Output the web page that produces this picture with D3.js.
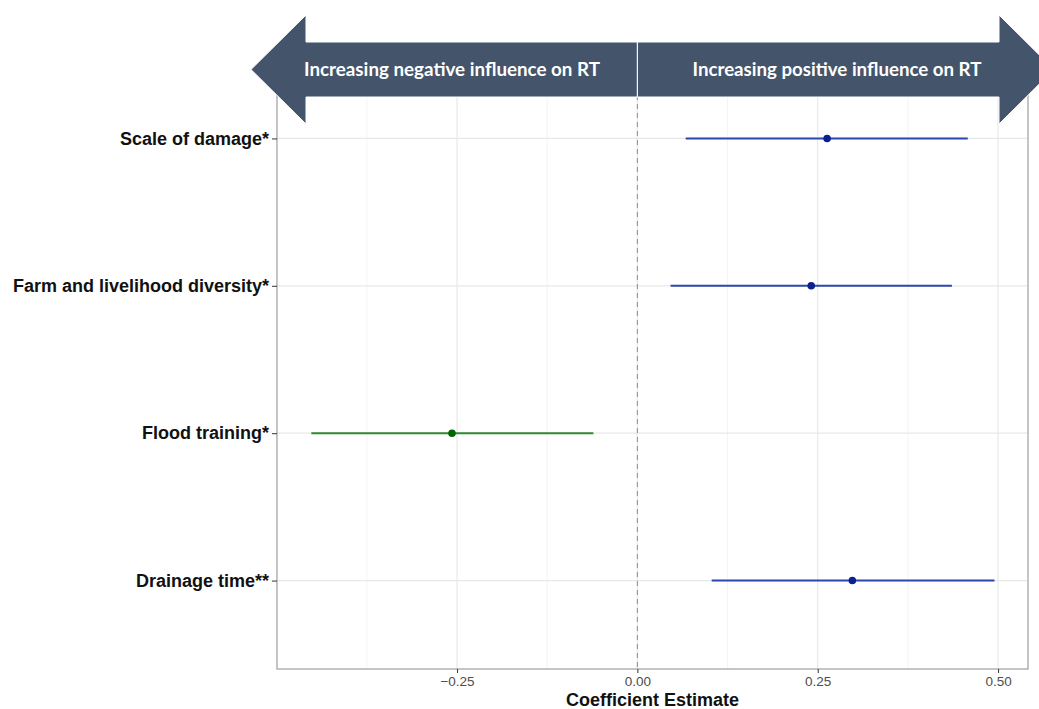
<!DOCTYPE html>
<html>
<head>
<meta charset="utf-8">
<script src="https://cdn.jsdelivr.net/npm/d3@7"></script>
<style>
  body { margin: 0; background: #fff; }
  svg { display: block; }
</style>
</head>
<body>
<svg id="chart" width="1039" height="709"></svg>
<script>
// categories top to bottom
const factors = ['Scale of damage*', 'Farm and livelihood diversity*', 'Flood training*', 'Drainage time**'];
const estimates = [0.263, 0.241, -0.257, 0.298];
const lower = [0.067, 0.046, -0.452, 0.103];
const upper = [0.458, 0.436, -0.061, 0.495];
const xTicks = [-0.25, 0, 0.25, 0.5];
const xMinor = [-0.375, -0.125, 0.125, 0.375];
const arrowLabels = ['Increasing negative influence on RT', 'Increasing positive influence on RT'];

const data = factors.map((f, i) => ({ factor: f, est: estimates[i], lo: lower[i], hi: upper[i] }));

const svg = d3.select('#chart');
const width = 1039, height = 709;
const margin = { top: 50, right: 11, bottom: 40, left: 277 };

const x = d3.scaleLinear()
  .domain([-0.4996, 0.5415])
  .range([margin.left, width - margin.right]);

const y = d3.scalePoint()
  .domain(factors)
  .range([margin.top, height - margin.bottom])
  .padding(0.6);

const colorLine = d => d.est < 0 ? '#2f8a2f' : '#2c47ab';
const colorPoint = d => d.est < 0 ? '#006400' : '#0b2190';

// grid
const grid = svg.append('g');
grid.selectAll('.minor')
  .data(xMinor)
  .join('line')
  .attr('x1', d => x(d)).attr('x2', d => x(d))
  .attr('y1', margin.top).attr('y2', height - margin.bottom)
  .attr('stroke', '#f0f0f0').attr('stroke-width', 0.8);
grid.selectAll('.major')
  .data(xTicks)
  .join('line')
  .attr('x1', d => x(d)).attr('x2', d => x(d))
  .attr('y1', margin.top).attr('y2', height - margin.bottom)
  .attr('stroke', '#e8e8e8').attr('stroke-width', 1.2);
grid.selectAll('.hgrid')
  .data(factors)
  .join('line')
  .attr('x1', margin.left).attr('x2', width - margin.right)
  .attr('y1', d => y(d)).attr('y2', d => y(d))
  .attr('stroke', '#e8e8e8').attr('stroke-width', 1.2);

// zero reference
svg.append('line')
  .attr('x1', x(0)).attr('x2', x(0))
  .attr('y1', margin.top).attr('y2', height - margin.bottom)
  .attr('stroke', '#8c8c8c')
  .attr('stroke-width', 1)
  .attr('stroke-dasharray', '5,4');

// error bars
svg.append('g').selectAll('line')
  .data(data)
  .join('line')
  .attr('x1', d => x(d.lo)).attr('x2', d => x(d.hi))
  .attr('y1', d => y(d.factor)).attr('y2', d => y(d.factor))
  .attr('stroke', colorLine)
  .attr('stroke-width', 2);

svg.append('g').selectAll('circle')
  .data(data)
  .join('circle')
  .attr('cx', d => x(d.est))
  .attr('cy', d => y(d.factor))
  .attr('r', 3.8)
  .attr('fill', colorPoint);

// panel border
svg.append('rect')
  .attr('x', margin.left).attr('y', margin.top)
  .attr('width', width - margin.right - margin.left)
  .attr('height', height - margin.bottom - margin.top)
  .attr('fill', 'none')
  .attr('stroke', '#a6a6a6')
  .attr('stroke-width', 1.3);

// axes
const xAxis = svg.append('g')
  .attr('transform', `translate(0,${height - margin.bottom})`)
  .call(d3.axisBottom(x).tickValues(xTicks).tickFormat(d3.format('.2f')).tickSize(4).tickPadding(3))
  .call(g => g.select('.domain').remove());
xAxis.selectAll('.tick line').attr('stroke', '#333').attr('stroke-width', 1);
xAxis.selectAll('text')
  .attr('fill', '#4d4d4d')
  .style('font-family', '"Liberation Sans", Arial, sans-serif')
  .style('font-size', '13.5px');

const yAxis = svg.append('g')
  .attr('transform', `translate(${margin.left},0)`)
  .call(d3.axisLeft(y).tickSize(5).tickPadding(3))
  .call(g => g.select('.domain').remove());
yAxis.selectAll('.tick line').attr('stroke', '#333').attr('stroke-width', 1);
yAxis.selectAll('text')
  .attr('fill', '#111')
  .style('font-family', '"Liberation Sans", Arial, sans-serif')
  .style('font-weight', 'bold')
  .style('font-size', '18px');

svg.append('text')
  .attr('x', (margin.left + width - margin.right) / 2)
  .attr('y', 706)
  .attr('text-anchor', 'middle')
  .attr('fill', '#111')
  .style('font-family', '"Liberation Sans", Arial, sans-serif')
  .style('font-weight', 'bold')
  .style('font-size', '18px')
  .text('Coefficient Estimate');

// direction arrows over the top of the panel
const mid = x(0);
const bodyTop = 42, bodyBot = 97, headTop = 15, headBot = 124, headLen = 55;
const cy = (headTop + headBot) / 2;
const leftBase = 306, rightBase = 999;

const arrows = [
  { pts: [[mid, bodyTop], [leftBase, bodyTop], [leftBase, headTop], [leftBase - headLen, cy],
          [leftBase, headBot], [leftBase, bodyBot], [mid, bodyBot]],
    label: arrowLabels[0], cx: 452 },
  { pts: [[mid, bodyTop], [rightBase, bodyTop], [rightBase, headTop], [rightBase + headLen, cy],
          [rightBase, headBot], [rightBase, bodyBot], [mid, bodyBot]],
    label: arrowLabels[1], cx: 837 }
];

const ag = svg.append('g');
ag.selectAll('path')
  .data(arrows)
  .join('path')
  .attr('d', d => d3.line()(d.pts) + 'Z')
  .attr('fill', '#44546a')
  .attr('stroke', '#ffffff')
  .attr('stroke-width', 1);

ag.selectAll('text')
  .data(arrows)
  .join('text')
  .attr('x', d => d.cx)
  .attr('y', cy + 6)
  .attr('text-anchor', 'middle')
  .attr('fill', '#fff')
  .style('font-family', 'Lato, "Open Sans", sans-serif')
  .style('font-weight', 'bold')
  .style('font-size', '18px')
  .attr('textLength', (d, i) => i === 0 ? 296 : 289)
  .attr('lengthAdjust', 'spacingAndGlyphs')
  .text(d => d.label);
</script>
</body>
</html>
